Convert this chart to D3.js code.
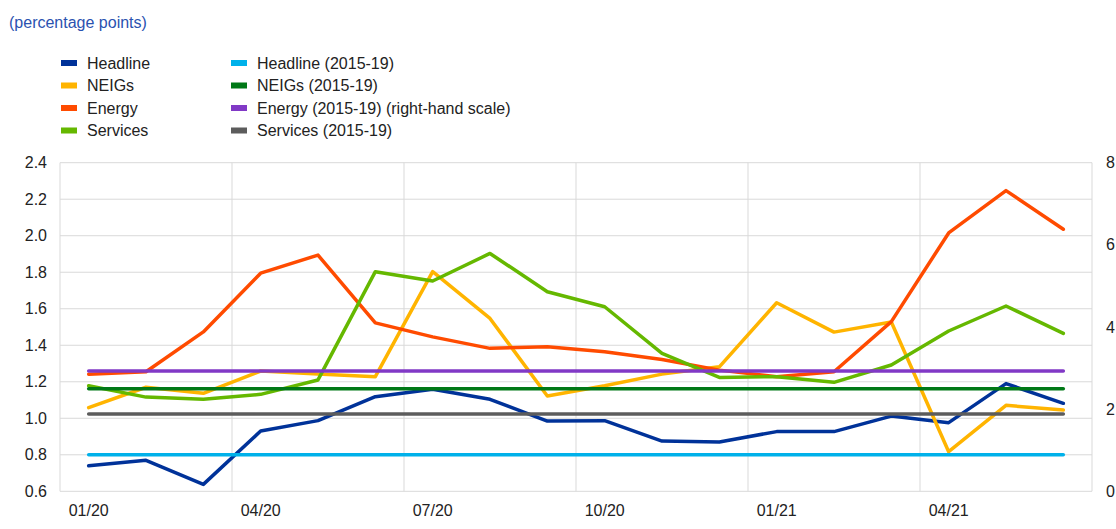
<!DOCTYPE html>
<html>
<head>
<meta charset="utf-8">
<script src="https://cdn.jsdelivr.net/npm/d3@7"></script>
<style>
  html, body { margin: 0; padding: 0; background: #fff; }
  svg { display: block; font-family: "Liberation Sans", Arial, sans-serif; }
</style>
</head>
<body>
<svg id="chart" width="1116" height="529"></svg>
<script>
// ---- Data ----
const months = ["01/20","02/20","03/20","04/20","05/20","06/20","07/20","08/20","09/20",
                "10/20","11/20","12/20","01/21","02/21","03/21","04/21","05/21","06/21"];
const tickLabels = ["01/20","04/20","07/20","10/20","01/21","04/21"];
const leftTicks = [0.6, 0.8, 1.0, 1.2, 1.4, 1.6, 1.8, 2.0, 2.2, 2.4];
const rightTicks = [0, 2, 4, 6, 8];

const headline = [0.74, 0.77, 0.638, 0.93, 0.987, 1.118, 1.159, 1.104, 0.985, 0.987, 0.875, 0.87,
                  0.927, 0.927, 1.012, 0.976, 1.19, 1.082];
const neigs    = [1.058, 1.17, 1.137, 1.259, 1.242, 1.228, 1.803, 1.547, 1.122, 1.178, 1.242, 1.282,
                  1.633, 1.472, 1.527, 0.817, 1.071, 1.045];
// Energy read on the right-hand scale
const energy   = [2.85, 2.91, 3.88, 5.31, 5.75, 4.10, 3.76, 3.48, 3.52, 3.40, 3.21, 2.95,
                  2.79, 2.91, 4.13, 6.29, 7.32, 6.38];
const services = [1.178, 1.116, 1.104, 1.131, 1.21, 1.803, 1.752, 1.903, 1.693, 1.611, 1.356, 1.224,
                  1.228, 1.197, 1.292, 1.478, 1.615, 1.465];

const headlineAvg = 0.80;
const neigsAvg = 1.162;
const energyAvg = 2.93;   // right-hand scale
const servicesAvg = 1.023;

const seriesNames = ["Headline","NEIGs","Energy","Services"];
const avgNames = ["Headline (2015-19)","NEIGs (2015-19)","Energy (2015-19) (right-hand scale)","Services (2015-19)"];
const seriesColors = ["#003299","#ffb400","#ff4b00","#65b800"];
const avgColors = ["#00b1ea","#007816","#8139c6","#5c5c5c"];

// ---- Layout ----
const svg = d3.select("#chart");
const L = 60, R = 1092, T = 162.7, B = 491.3;
const FS = 16;

const x = d3.scaleBand().domain(months).range([L, R]).padding(0);
const cx = m => x(m) + x.bandwidth() / 2;
const yL = d3.scaleLinear().domain([0.6, 2.4]).range([B, T]);
const yR = d3.scaleLinear().domain([0, 8]).range([B, T]);

// Title
svg.append("text").attr("x", 9).attr("y", 28)
  .attr("fill", "#2a52b0").attr("font-size", FS).text("(percentage points)");

// Legend
const legCols = [{sx: 61, tx: 87, names: seriesNames, colors: seriesColors},
                 {sx: 231, tx: 257, names: avgNames, colors: avgColors}];
const rowY = [63, 85.5, 108, 130.5];
legCols.forEach(col => {
  col.names.forEach((n, i) => {
    svg.append("rect").attr("x", col.sx).attr("y", rowY[i] - 3).attr("width", 16).attr("height", 6)
      .attr("fill", col.colors[i]);
    svg.append("text").attr("x", col.tx).attr("y", rowY[i]).attr("dy", "0.35em")
      .attr("font-size", FS).attr("fill", "#222").text(n);
  });
});

// Grid
const grid = svg.append("g").attr("stroke", "#d9d9d9").attr("stroke-width", 1);
leftTicks.forEach(t => {
  grid.append("line").attr("x1", L).attr("x2", R).attr("y1", yL(t)).attr("y2", yL(t));
});
const vEdges = months.filter((m, i) => i % 3 === 0).map(m => x(m)).concat([R]);
vEdges.forEach(v => {
  grid.append("line").attr("x1", v).attr("x2", v).attr("y1", T).attr("y2", B);
});

// Axes labels
const axL = svg.append("g").attr("transform", `translate(${L},0)`)
  .call(d3.axisLeft(yL).tickValues(leftTicks).tickFormat(d3.format(".1f")).tickSize(0).tickPadding(13));
const axR = svg.append("g").attr("transform", `translate(${R},0)`)
  .call(d3.axisRight(yR).tickValues(rightTicks).tickFormat(d3.format("d")).tickSize(0).tickPadding(14));
const axB = svg.append("g").attr("transform", `translate(0,${B})`)
  .call(d3.axisBottom(x).tickValues(tickLabels).tickSize(0).tickPadding(13));
[axL, axR, axB].forEach(a => {
  a.select(".domain").remove();
  a.selectAll("text").attr("font-size", FS).attr("fill", "#222")
    .attr("font-family", "'Liberation Sans', Arial, sans-serif");
});

// Lines
const lineL = d3.line().x((d, i) => cx(months[i])).y(d => yL(d));
const lineR = d3.line().x((d, i) => cx(months[i])).y(d => yR(d));

const plot = svg.append("g").attr("fill", "none").attr("stroke-width", 3.5)
  .attr("stroke-linejoin", "round").attr("stroke-linecap", "round");

plot.append("path").attr("d", lineL(headline)).attr("stroke", seriesColors[0]);
plot.append("path").attr("d", lineL(neigs)).attr("stroke", seriesColors[1]);
plot.append("path").attr("d", lineR(energy)).attr("stroke", seriesColors[2]);
plot.append("path").attr("d", lineL(services)).attr("stroke", seriesColors[3]);

const flat = v => months.map(() => v);
plot.append("path").attr("d", lineL(flat(headlineAvg))).attr("stroke", avgColors[0]);
plot.append("path").attr("d", lineL(flat(neigsAvg))).attr("stroke", avgColors[1]);
plot.append("path").attr("d", lineR(flat(energyAvg))).attr("stroke", avgColors[2]);
plot.append("path").attr("d", lineL(flat(servicesAvg))).attr("stroke", avgColors[3]);
</script>
</body>
</html>
